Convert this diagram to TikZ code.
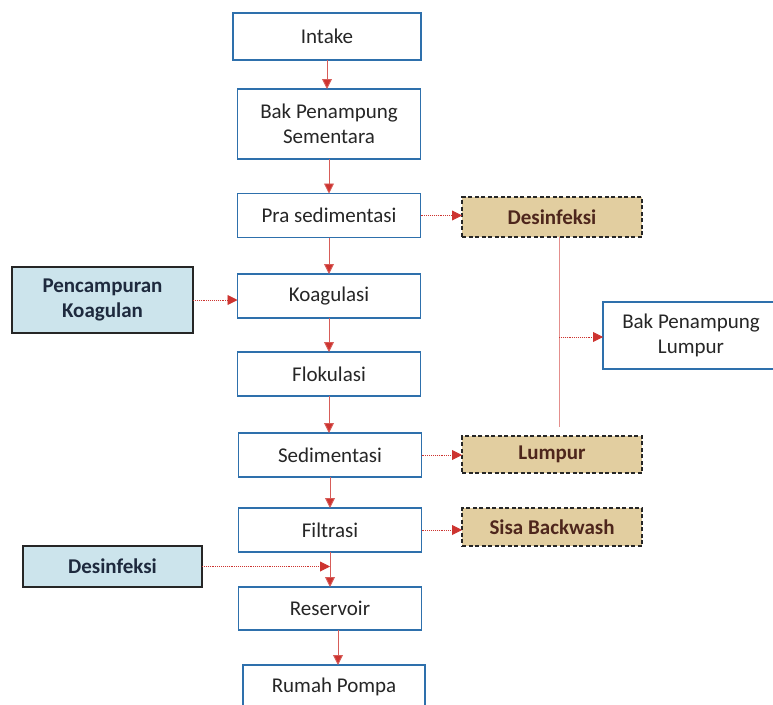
\documentclass[tikz,border=0pt]{standalone}
\usepackage{fontspec}
\setmainfont{Carlito}
\usetikzlibrary{arrows.meta}

\definecolor{boxblue}{RGB}{46,112,172}
\definecolor{flowred}{RGB}{205,52,48}
\definecolor{tanfill}{RGB}{226,206,160}
\definecolor{tantext}{RGB}{78,38,28}
\definecolor{icefill}{RGB}{204,228,236}
\definecolor{navytext}{RGB}{30,42,62}
\definecolor{maintext}{RGB}{38,38,38}

\tikzset{
  stage/.style={draw=boxblue, line width=1.4pt, fill=white, inner sep=0pt, outer sep=0pt,
    align=center, text=maintext, font=\fontsize{21}{25}\selectfont},
  waste/.style={draw=black!85, line width=1.6pt, dash pattern=on 4pt off 2.5pt, fill=tanfill,
    inner sep=0pt, outer sep=0pt, align=center, text=tantext, font=\bfseries\fontsize{21}{25}\selectfont},
  feed/.style={draw=black!85, line width=2pt, fill=icefill, inner sep=0pt, outer sep=0pt,
    align=center, text=navytext, font=\bfseries\fontsize{21}{25}\selectfont},
  mainflow/.style={draw=flowred!80, line width=0.9pt, -{Triangle[length=10pt,width=10pt,fill=flowred]}},
  sideflow/.style={draw=flowred, line width=0.9pt, densely dotted, -{Triangle[length=10pt,width=10pt,fill=flowred]}},
  branchline/.style={draw=flowred!55, line width=0.9pt},
}

\begin{document}
\begin{tikzpicture}[x=1pt,y=-1pt]
\useasboundingbox (0,0) rectangle (773,704);
\clip (0,0) rectangle (773,704);

% main treatment train
\node[stage, minimum width=188, minimum height=47] (intake) at (327,36.5) {Intake};
\node[stage, minimum width=183, minimum height=70] (bak) at (329,124) {Bak Penampung\\Sementara};
\node[stage, minimum width=183, minimum height=44] (pra) at (329,215.5) {Pra sedimentasi};
\node[stage, minimum width=183, minimum height=44] (koag) at (329,296) {Koagulasi};
\node[stage, minimum width=183, minimum height=44] (flok) at (329,374) {Flokulasi};
\node[stage, minimum width=183, minimum height=44] (sedim) at (330,455) {Sedimentasi};
\node[stage, minimum width=183, minimum height=44] (filt) at (330,530) {Filtrasi};
\node[stage, minimum width=183, minimum height=43] (res) at (330,608.5) {Reservoir};
\node[stage, minimum width=182, minimum height=44] (rumah) at (334,687) {Rumah Pompa};

% chemical feeds
\node[feed, minimum width=181, minimum height=66] (koagfeed) at (102.5,300) {Pencampuran\\Koagulan};
\node[feed, minimum width=179, minimum height=41] (desleft) at (112.5,566.5) {Desinfeksi};

% residual streams
\node[waste, minimum width=180, minimum height=40] (desright) at (552,217) {Desinfeksi};
\node[waste, minimum width=180, minimum height=37] (lumpur) at (552,454.5) {Lumpur};
\node[waste, minimum width=180, minimum height=38] (backwash) at (552,527) {Sisa Backwash};
\node[stage, minimum width=176, minimum height=67] (bpl) at (691,335.5) {Bak Penampung\\Lumpur};

% main flow arrows
\draw[mainflow] (intake.south) -- (intake.south |- bak.north);
\draw[mainflow] (bak.south) -- (bak.south |- pra.north);
\draw[mainflow] (pra.south) -- (pra.south |- koag.north);
\draw[mainflow] (koag.south) -- (koag.south |- flok.north);
\draw[mainflow] (flok.south) -- (flok.south |- sedim.north);
\draw[mainflow] (sedim.south) -- (sedim.south |- filt.north);
\draw[mainflow] (filt.south) -- (filt.south |- res.north);
\draw[mainflow] ([xshift=8pt]res.south) -- ([xshift=8pt]res.south |- rumah.north);

% side arrows
\draw[sideflow] (koagfeed.east) -- (koagfeed.east -| koag.west);
\draw[sideflow] (pra.east) -- (pra.east -| desright.west);
\draw[sideflow] (sedim.east) -- (sedim.east -| lumpur.west);
\draw[sideflow] (filt.east) -- (filt.east -| backwash.west);
\draw[sideflow] (desleft.east) -- (desleft.east -| filt.south);

% sludge collection line
\coordinate (topj) at (559,237);
\coordinate (botj) at (559,427);
\coordinate (midj) at (559,337);
\draw[branchline] (topj) -- (botj);
\draw[sideflow] (midj) -- (midj -| bpl.west);
\end{tikzpicture}
\end{document}
